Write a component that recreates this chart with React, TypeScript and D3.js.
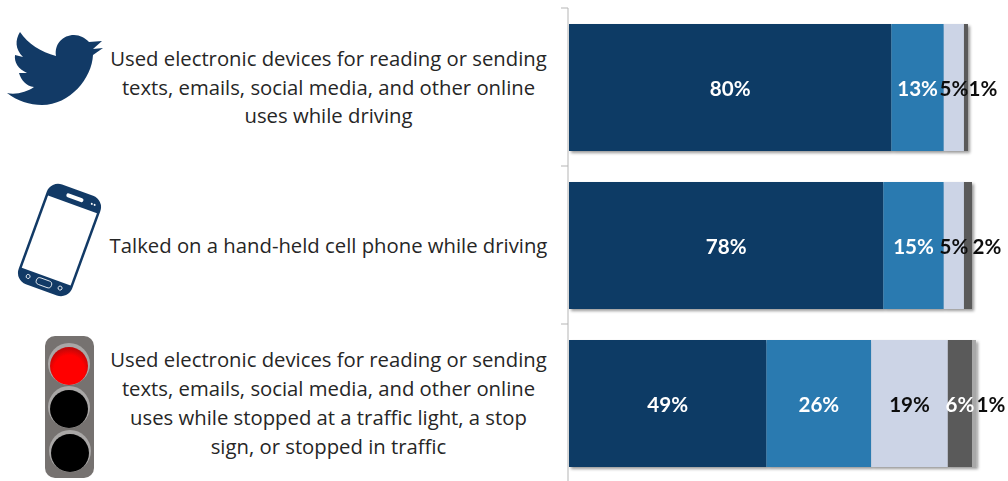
import React from "react";
import * as d3 from "d3";

const rows = ["texting", "handheld", "stopped"];
const seriesNames = ["a", "b", "c", "d", "e"];
const seriesA = [80, 78, 49];
const seriesB = [13, 15, 26];
const seriesC = [5, 5, 19];
const seriesD = [1, 2, 6];
const seriesE = [0, 0, 1];
const allSeries = [seriesA, seriesB, seriesC, seriesD, seriesE];
const colors = ["#103a65", "#2a7ab0", "#ccd4e6", "#5a5a5a", "#a8a8a8"];
const rowLines = [
  ["Used electronic devices for reading or sending", "texts, emails, social media, and other online", "uses while driving"],
  ["Talked on a hand-held cell phone while driving"],
  ["Used electronic devices for reading or sending", "texts, emails, social media, and other online", "uses while stopped at a traffic light, a stop", "sign, or stopped in traffic"],
];

const W = 1008, H = 481;
const x = d3.scaleLinear().domain([0, 100]).range([569, 972]);
const y = d3.scaleBand<string>().domain(rows).range([8, 482]).paddingInner(0).paddingOuter(0);
const barTop = 16, barH = 127;
const lineH = 28.7;

export default function App() {
  const stacked = d3.stack<number>()
    .keys(seriesNames.map((_, i) => String(i)))
    .value((r, k) => allSeries[+k][r])(rows.map((_, i) => i));
  return (
    <svg width={W} height={H} style={{ position: "absolute", left: 0, top: 0, background: "#fff" }}>
      <defs>
        <filter id="sh" x="-5%" y="-5%" width="110%" height="115%">
          <feDropShadow dx="2" dy="2" stdDeviation="1.6" floodColor="#000" floodOpacity="0.4" />
        </filter>
        <filter id="soft"><feGaussianBlur stdDeviation="0.35" /></filter>
        <radialGradient id="red" cx="50%" cy="62%" r="58%">
          <stop offset="70%" stopColor="#ff0000" />
          <stop offset="100%" stopColor="#c40808" />
        </radialGradient>
      </defs>

      {/* axis */}
      <line x1={568} x2={568} y1={8} y2={481} stroke="#b5b5b5" strokeWidth={1} />
      {y.domain().map((d) => (
        <line key={d} x1={561} x2={568} y1={y(d)!} y2={y(d)!} stroke="#b5b5b5" strokeWidth={1} />
      ))}

      {/* bars */}
      {rows.map((r, ri) => (
        <g key={r} filter="url(#sh)">
          {stacked.map((s, si) => (
            <rect key={si} x={x(s[ri][0])} y={y(r)! + barTop} width={x(s[ri][1]) - x(s[ri][0])} height={barH} fill={colors[si]} />
          ))}
        </g>
      ))}

      {/* value labels */}
      <g fontFamily="Lato" fontWeight={700} fontSize={20.6} textAnchor="middle" filter="url(#soft)">
        {rows.map((r, ri) => {
          const visible = stacked.filter((s) => s[ri][1] > s[ri][0]);
          return visible.map((s, vi) => {
            const si = stacked.indexOf(s);
            const last = vi === visible.length - 1;
            const outside = last && allSeries[si][ri] <= 2;
            const cx = outside ? x(s[ri][1]) + 15 : (x(s[ri][0]) + x(s[ri][1])) / 2;
            const fill = outside || si === 2 ? "#111" : "#fff";
            return (
              <text key={si} x={cx} y={y(r)! + barTop + barH / 2 + 8} fill={fill}>
                {allSeries[si][ri]}%
              </text>
            );
          });
        })}
      </g>

      {/* row descriptions */}
      <g fontFamily="'Open Sans'" fontSize={20.3} fill="#262626" textAnchor="middle">
        {rows.map((r, ri) => {
          const cy = y(r)! + barTop + barH / 2;
          const n = rowLines[ri].length;
          return rowLines[ri].map((t, li) => (
            <text key={li} x={328.5} y={cy + (li - (n - 1) / 2) * lineH + 7}>{t}</text>
          ));
        })}
      </g>

      {/* twitter icon */}
      <path
        fill="#123a66"
        d="M20 32 C28 44 41 52 56 56 C54 44 63 35 74 35 C80 35 85 38 89 42 L102 41 L93 49 L103 48 L93 55 C92 78 70 105 42 105 C30 105 17 101 7 93 C16 95 27 92 34 87 C26 86 21 80 19 73 L27 73 C18 69 14 62 15 55 L23 57 C15 49 15 40 20 32 Z"
      />

      {/* phone icon */}
      <g transform="translate(59.5 240) rotate(20)">
        <rect x={-28.5} y={-53} width={57} height={106} rx={12} fill="#123a66" />
        <rect x={-26} y={-38} width={52} height={77} fill="#fff" />
        <rect x={-9} y={-47} width={18} height={4} rx={2} fill="#fff" />
        <circle cx={18} cy={-45} r={1} fill="#fff" />
        <circle cx={21} cy={-45} r={1} fill="#fff" />
        <rect x={-8} y={42} width={16} height={7} rx={3.5} fill="none" stroke="#fff" strokeWidth={0.8} />
        <circle cx={-17} cy={45} r={2} fill="none" stroke="#fff" strokeWidth={0.8} />
        <circle cx={17} cy={45} r={2} fill="none" stroke="#fff" strokeWidth={0.8} />
      </g>

      {/* traffic light icon */}
      <rect x={45} y={336} width={49} height={142} rx={10} fill="#767270" />
      <circle cx={69} cy={364} r={21} fill="#a9a7a6" />
      <circle cx={69} cy={407} r={21} fill="#a9a7a6" />
      <circle cx={70} cy={451} r={21} fill="#a9a7a6" />
      <circle cx={69} cy={366} r={19} fill="url(#red)" />
      <circle cx={69} cy={409} r={19} fill="#000" />
      <circle cx={70} cy={453} r={19} fill="#000" />
    </svg>
  );
}
